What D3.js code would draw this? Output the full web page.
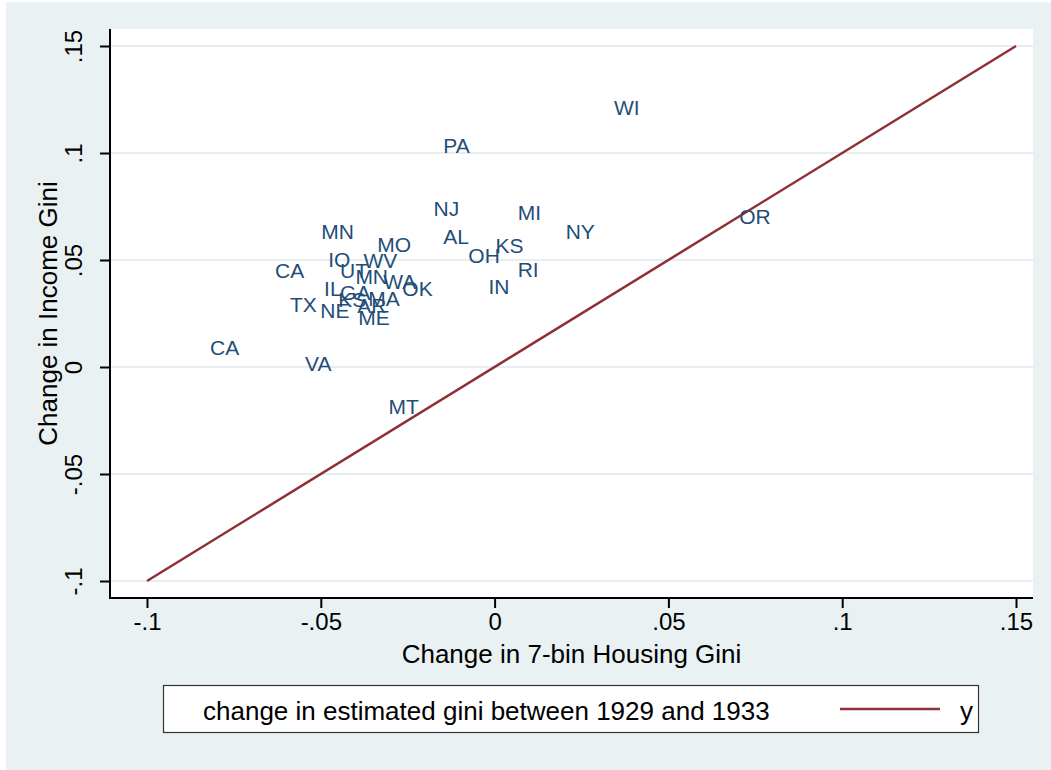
<!DOCTYPE html>
<html>
<head>
<meta charset="utf-8">
<script src="https://cdn.jsdelivr.net/npm/d3@7"></script>
<style>
  body { margin: 0; background: #fff; }
  text { font-family: "Liberation Sans", Arial, sans-serif; }
</style>
</head>
<body>
<div class="canvas"></div>
<script>
// data
const states = ['WI','PA','NJ','MI','AL','NY','OR','KS','OH','RI','IN','OK',
    'MN','MO','IO','WV','CA','UT','MN','WA','IL','GA','KS','MA','AR','TX','NE','ME',
    'CA','VA','MT'];
const housingGini = [0.0332,-0.0159,-0.0187,0.0055,-0.0159,0.0193,0.0692,-0.0009,-0.0087,0.0055,-0.0029,-0.0277,
    -0.0510,-0.0349,-0.0490,-0.0389,-0.0643,-0.0456,-0.0412,-0.0332,-0.0502,-0.0456,-0.0461,-0.0375,-0.0407,-0.0600,-0.0513,-0.0404,
    -0.0830,-0.0557,-0.0317];
const incomeGini = [0.1213,0.1035,0.0740,0.0721,0.0609,0.0632,0.0702,0.0566,0.0520,0.0454,0.0375,0.0365,
    0.0632,0.0571,0.0501,0.0496,0.0449,0.0449,0.0421,0.0398,0.0365,0.0346,0.0314,0.0318,0.0286,0.0290,0.0262,0.0229,
    0.0089,0.0014,-0.0187];
const lineXs = [-0.1, 0.15];
const tickVals = [-0.1, -0.05, 0, 0.05, 0.1, 0.15];
const tickLabels = ['-.1', '-.05', '0', '.05', '.1', '.15'];

const width = 1051, height = 770;
const plot = {left: 110, right: 1033, top: 29, bottom: 598};

const svg = d3.select('.canvas').append('svg')
    .attr('width', width)
    .attr('height', height);

// graph region + plot region
svg.append('rect').attr('width', width).attr('height', height).attr('fill', '#fff');
svg.append('rect').attr('x', 6).attr('y', 2).attr('width', width - 6).attr('height', height - 2)
    .attr('fill', '#e9f1f3');
svg.append('rect')
    .attr('x', plot.left).attr('y', plot.top)
    .attr('width', plot.right - plot.left).attr('height', plot.bottom - plot.top)
    .attr('fill', '#fff');

// scales
const x = d3.scaleLinear().domain([-0.1, 0.15]).range([147, 1016]);
const y = d3.scaleLinear().domain([-0.1, 0.15]).range([581, 46]);

// gridlines
svg.append('g').selectAll('line')
    .data(tickVals)
    .join('line')
    .attr('x1', plot.left).attr('x2', plot.right)
    .attr('y1', d => y(d)).attr('y2', d => y(d))
    .attr('stroke', '#e6eef0')
    .attr('stroke-width', 2);

// 45 degree line
const line = d3.line().x(d => x(d)).y(d => y(d));
svg.append('path')
    .datum(lineXs)
    .attr('d', line)
    .attr('fill', 'none')
    .attr('stroke', '#8f2f36')
    .attr('stroke-width', 2.5);

// state labels
svg.append('g').selectAll('text')
    .data(states)
    .join('text')
    .attr('x', (d, i) => x(housingGini[i]) + 4)
    .attr('y', (d, i) => y(incomeGini[i]))
    .attr('dy', '0.35em')
    .attr('fill', '#1f4e79')
    .style('font-size', '21px')
    .text(d => d);

// axes
const fmt = d => tickLabels[tickVals.indexOf(d)];
const xAxis = d3.axisBottom(x).tickValues(tickVals).tickFormat(fmt).tickSize(10).tickPadding(5);
const yAxis = d3.axisLeft(y).tickValues(tickVals).tickFormat(fmt).tickSize(10);

const xAxisGroup = svg.append('g')
    .attr('transform', `translate(0, ${plot.bottom})`)
    .call(xAxis);
xAxisGroup.select('.domain').remove();
xAxisGroup.append('line')
    .attr('x1', plot.left - 1).attr('x2', plot.right)
    .attr('stroke', '#000').attr('stroke-width', 2);

const yAxisGroup = svg.append('g')
    .attr('transform', `translate(${plot.left}, 0)`)
    .call(yAxis);
yAxisGroup.select('.domain').remove();
yAxisGroup.append('line')
    .attr('y1', plot.top).attr('y2', plot.bottom + 1)
    .attr('stroke', '#000').attr('stroke-width', 2);
yAxisGroup.selectAll('.tick text')
    .attr('x', 0).attr('y', -28).attr('dy', null)
    .attr('text-anchor', 'middle')
    .attr('transform', 'rotate(-90)');

svg.selectAll('.tick line').attr('stroke', '#000').attr('stroke-width', 2);
svg.selectAll('.tick text')
    .attr('fill', '#000')
    .style('font-size', '24px')
    .style('font-family', '"Liberation Sans", Arial, sans-serif');

// axis titles
svg.append('text')
    .attr('x', (plot.left + plot.right) / 2).attr('y', 663)
    .attr('text-anchor', 'middle')
    .style('font-size', '26px')
    .text('Change in 7-bin Housing Gini');
svg.append('text')
    .attr('transform', `translate(57, ${(plot.top + plot.bottom) / 2}) rotate(-90)`)
    .attr('text-anchor', 'middle')
    .style('font-size', '26px')
    .text('Change in Income Gini');

// legend
const legend = svg.append('g');
legend.append('rect')
    .attr('x', 163.5).attr('y', 685.5).attr('width', 815).attr('height', 47)
    .attr('fill', '#fff').attr('stroke', '#333').attr('stroke-width', 1.2);
legend.append('text')
    .attr('x', 203).attr('y', 720)
    .style('font-size', '26px')
    .text('change in estimated gini between 1929 and 1933');
legend.append('line')
    .attr('x1', 840).attr('x2', 940).attr('y1', 709).attr('y2', 709)
    .attr('stroke', '#8f2f36').attr('stroke-width', 2.5);
legend.append('text')
    .attr('x', 960).attr('y', 720)
    .style('font-size', '26px')
    .text('y');
</script>
</body>
</html>
